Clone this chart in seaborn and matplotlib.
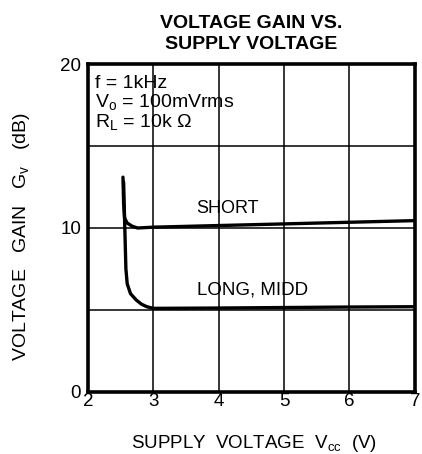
import numpy as np
import pandas as pd
import seaborn as sns
import matplotlib.pyplot as plt

# values
vcc_short = [2.535, 2.545, 2.56, 2.6, 2.68, 2.76, 3.0, 4.0, 5.0, 6.0, 7.0]
gain_short = [13.1, 11.5, 10.6, 10.3, 10.1, 10.0, 10.05, 10.15, 10.25, 10.35, 10.45]
vcc_long = [2.545, 2.56, 2.58, 2.6, 2.65, 2.74, 2.82, 2.9, 3.0, 4.0, 5.0, 6.0, 7.0]
gain_long = [12.8, 10.5, 7.5, 6.6, 6.0, 5.6, 5.35, 5.2, 5.1, 5.12, 5.15, 5.18, 5.2]

x_ticks = [2, 3, 4, 5, 6, 7]
y_grid = [0, 5, 10, 15, 20]
y_labels = ['0', '', '10', '', '20']
conditions = ['f = 1kHz', 'V$_\\mathrm{o}$ = 100mVrms', 'R$_\\mathrm{L}$ = 10k $\\Omega$']

df = pd.DataFrame({
    'vcc': vcc_short + vcc_long,
    'gain': gain_short + gain_long,
    'mode': ['SHORT'] * len(vcc_short) + ['LONG, MIDD'] * len(vcc_long),
})

sns.set_style('white')
plt.rcParams['font.family'] = ['Liberation Sans', 'DejaVu Sans']
plt.rcParams['mathtext.fontset'] = 'custom'
plt.rcParams['mathtext.rm'] = 'Liberation Sans'
plt.rcParams['text.color'] = 'black'
plt.rcParams['axes.labelcolor'] = 'black'
plt.rcParams['xtick.color'] = 'black'
plt.rcParams['ytick.color'] = 'black'

fig = plt.figure(figsize=(4.22, 4.54), dpi=100)
ax = fig.add_axes([0.2085, 0.1366, 0.7745, 0.7224])

sns.lineplot(data=df, x='vcc', y='gain', units='mode', estimator=None, sort=False,
             color='black', lw=2.4, ax=ax, legend=False)

ax.set_xlim(2, 7)
ax.set_ylim(0, 20)
ax.set_xticks(x_ticks)
ax.set_yticks(y_grid)
ax.set_yticklabels(y_labels)
ax.grid(True, color='black', lw=1.1)
ax.tick_params(length=0, labelsize=13.5)
ax.tick_params(axis='y', pad=5)
ax.tick_params(axis='x', pad=1)
for s in ax.spines.values():
    s.set_linewidth(2.6)
    s.set_color('black')

ax.set_xlabel(r'SUPPLY  VOLTAGE  V$_\mathrm{cc}$  (V)', fontsize=13.5)
ax.xaxis.set_label_coords(0.508, -0.125)
ax.set_ylabel(r'VOLTAGE   GAIN   G$_\mathrm{v}$   (dB)', fontsize=14)
ax.yaxis.set_label_coords(-0.17, 0.475)
ax.set_title('VOLTAGE GAIN VS.\nSUPPLY VOLTAGE', fontsize=14, fontweight='heavy',
             pad=11, linespacing=1.25)

ax.text(4.13, 11.2, 'SHORT', ha='center', va='center', fontsize=13)
ax.text(4.52, 6.2, 'LONG, MIDD', ha='center', va='center', fontsize=13.5)
for i, line in enumerate(conditions):
    ax.text(2.11, 18.84 - i * 1.22, line, ha='left', va='center', fontsize=14)

fig.savefig('out.png', dpi=100)
